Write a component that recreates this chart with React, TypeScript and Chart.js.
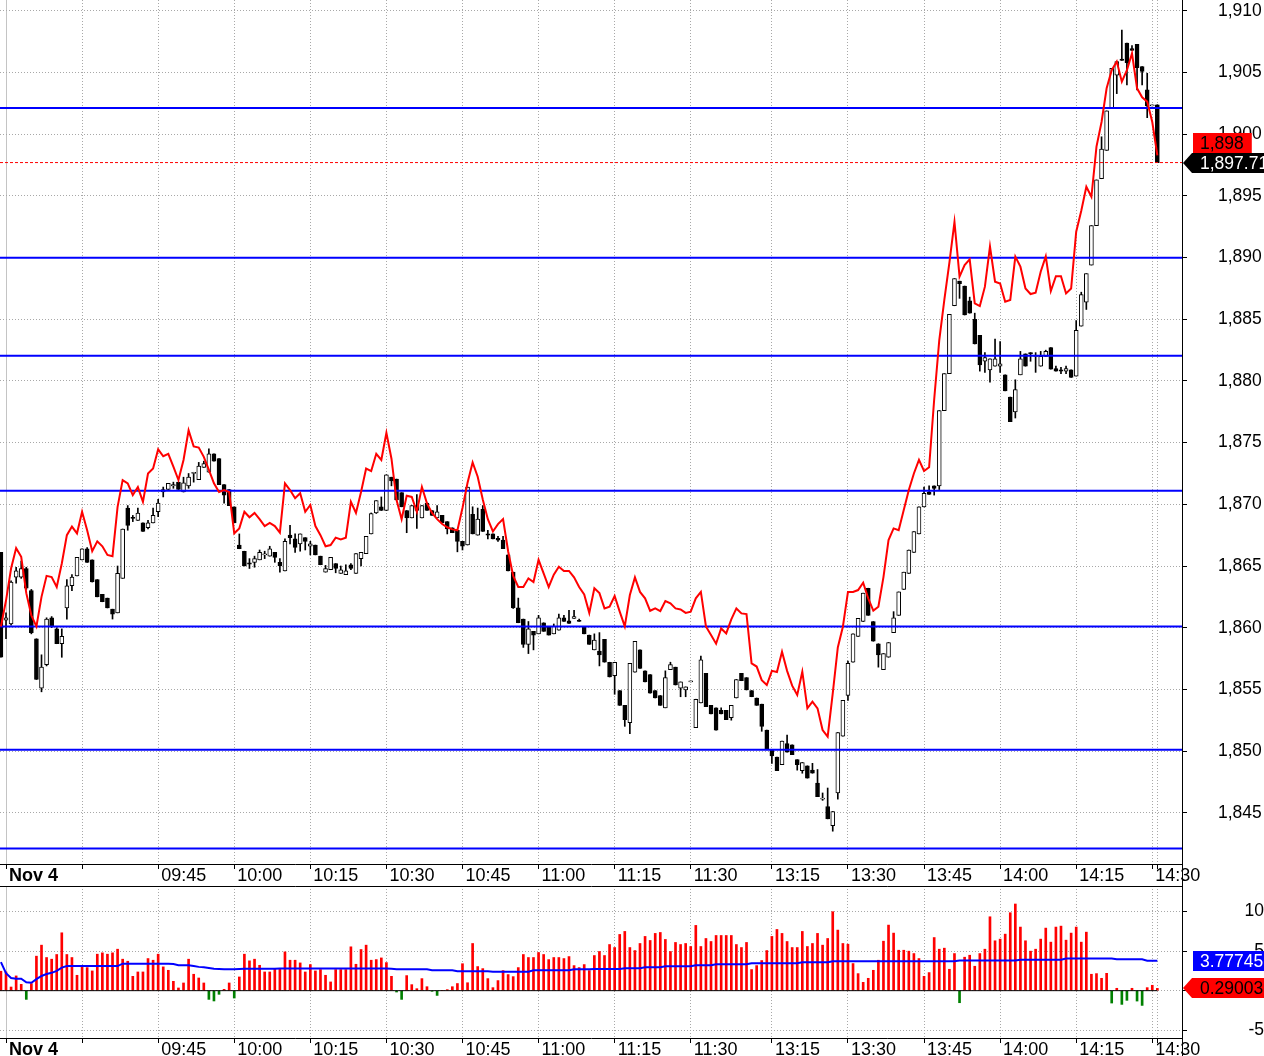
import React, { useEffect, useRef } from 'react';
import { Chart, registerables } from 'chart.js';

Chart.register(...registerables);

const FONT = "'Liberation Sans', Arial, sans-serif";

// ---- data (one entry per 1-minute bar, bar numbers start at FIRST_BAR) ----
const FIRST_BAR = -1;

const opens = [
  1866.1, 1860.6, 1860.3, 1864.1, 1864.1, 1864.8, 1863.0, 1859.1, 1855.1, 1857.0,
  1860.8, 1859.9, 1858.7, 1861.6, 1863.4, 1864.2, 1865.5, 1866.4, 1865.5, 1863.9,
  1862.7, 1862.4, 1861.5, 1861.2, 1864.0, 1869.7, 1868.95, 1868.7, 1868.5, 1868.1,
  1868.5, 1869.4, 1871.0, 1871.2, 1871.5, 1871.8, 1871.0, 1871.5, 1872.5, 1872.0,
  1873.0, 1872.6, 1874.1, 1873.7, 1871.6, 1871.2, 1869.8, 1866.7, 1866.2, 1865.25,
  1865.3, 1865.5, 1865.9, 1865.8, 1866.1, 1865.3, 1864.6, 1867.5, 1867.2, 1866.8,
  1867.3, 1866.6, 1866.7, 1865.8, 1864.5, 1864.7, 1865.2, 1864.4, 1864.3, 1865.1,
  1864.4, 1865.6, 1866.0, 1867.6, 1869.3, 1869.8, 1869.5, 1872.2, 1872.05, 1870.95,
  1869.5, 1868.9, 1869.9, 1868.9, 1870.1, 1869.5, 1868.9, 1869.1, 1868.6, 1868.1,
  1867.9, 1867.0, 1866.7, 1869.2, 1867.5, 1869.6, 1867.6, 1867.6, 1867.25, 1867.1,
  1865.9, 1864.5, 1861.6, 1860.7, 1858.65, 1859.7, 1859.5, 1860.4, 1860.1, 1859.5,
  1859.8, 1860.8, 1860.56, 1860.76, 1860.6, 1860.1, 1859.4, 1858.2, 1858.1, 1859.05,
  1857.2, 1856.1, 1854.9, 1853.7, 1852.3, 1856.4, 1858.2, 1856.5, 1856.2, 1854.9,
  1854.5, 1853.5, 1856.6, 1856.8, 1855.1, 1854.95, 1855.6, 1851.9, 1853.9, 1856.3,
  1853.7, 1853.5, 1853.3, 1853.3, 1852.7, 1854.3, 1856.3, 1855.95, 1854.9, 1854.3,
  1853.8, 1851.7, 1850.1, 1849.5, 1848.9, 1850.6, 1850.5, 1849.3, 1848.4, 1848.8,
  1848.45, 1847.4, 1846.1, 1845.5, 1843.95, 1846.6, 1851.2, 1854.5, 1857.2, 1859.3,
  1860.5, 1863.2, 1860.5, 1858.7, 1856.6, 1857.6, 1859.6, 1861.0, 1863.1, 1864.4,
  1866.1, 1867.6, 1869.8, 1871.0, 1871.5, 1871.5, 1877.6, 1880.6, 1886.1, 1888.1,
  1887.7, 1886.5, 1885.0, 1883.7, 1881.6, 1880.9, 1881.2, 1881.2, 1880.5, 1878.7,
  1877.5, 1880.5, 1882.2, 1882.3, 1882.0, 1881.2, 1882.0, 1882.7, 1881.0, 1880.9,
  1880.8, 1880.9, 1880.4, 1884.45, 1886.4, 1889.4, 1892.6, 1896.4, 1898.7, 1902.1,
  1904.8, 1906.1, 1907.4, 1906.95, 1907.3, 1905.5, 1903.6, 1902.3, 1902.4,
];

const highs = [
  1866.1, 1861.2, 1863.8, 1864.9, 1865.4, 1864.9, 1863.1, 1859.1, 1857.8, 1860.8,
  1860.9, 1860.0, 1859.9, 1863.9, 1864.3, 1865.7, 1866.4, 1866.5, 1865.5, 1863.9,
  1862.7, 1862.4, 1861.5, 1865.0, 1868.0, 1869.9, 1869.1, 1869.7, 1868.5, 1868.7,
  1869.7, 1870.4, 1871.4, 1871.7, 1871.8, 1871.8, 1872.2, 1872.5, 1872.6, 1873.4,
  1873.5, 1874.5, 1874.1, 1873.7, 1871.6, 1871.2, 1869.8, 1867.6, 1866.2, 1865.6,
  1865.8, 1866.3, 1866.2, 1866.6, 1866.1, 1865.6, 1867.2, 1868.3, 1867.6, 1867.6,
  1867.3, 1867.0, 1866.7, 1865.8, 1865.05, 1865.7, 1865.2, 1865.0, 1865.1, 1865.2,
  1866.0, 1866.1, 1867.4, 1869.3, 1870.3, 1870.6, 1872.4, 1872.2, 1872.05, 1870.95,
  1869.5, 1869.9, 1870.8, 1869.9, 1870.1, 1869.5, 1869.9, 1869.1, 1868.6, 1868.1,
  1867.9, 1867.0, 1871.4, 1869.8, 1869.7, 1869.9, 1867.9, 1867.6, 1867.4, 1867.4,
  1865.9, 1864.5, 1862.4, 1860.7, 1860.5, 1859.7, 1861.0, 1860.4, 1860.1, 1860.3,
  1861.1, 1861.0, 1861.4, 1861.4, 1860.7, 1860.1, 1859.4, 1859.5, 1859.6, 1859.05,
  1857.2, 1857.2, 1854.9, 1853.7, 1857.1, 1858.9, 1858.2, 1856.5, 1856.2, 1854.9,
  1854.5, 1856.5, 1857.2, 1856.8, 1855.6, 1855.2, 1855.6, 1854.2, 1857.7, 1856.3,
  1853.7, 1853.5, 1853.5, 1853.3, 1853.7, 1855.8, 1856.3, 1855.95, 1854.9, 1854.3,
  1853.8, 1851.7, 1850.1, 1849.5, 1850.8, 1851.3, 1850.5, 1849.3, 1849.07, 1848.8,
  1849.0, 1848.5, 1846.6, 1847.0, 1845.1, 1851.5, 1854.1, 1857.3, 1859.5, 1860.76,
  1862.8, 1863.2, 1860.5, 1858.7, 1857.9, 1858.8, 1861.3, 1862.9, 1864.5, 1866.3,
  1867.8, 1869.8, 1871.4, 1871.5, 1871.5, 1877.6, 1880.6, 1885.4, 1888.3, 1888.1,
  1887.7, 1886.8, 1885.5, 1883.7, 1882.3, 1881.8, 1883.4, 1883.2, 1880.5, 1878.7,
  1880.1, 1882.4, 1882.2, 1882.3, 1882.3, 1882.4, 1882.5, 1882.7, 1881.2, 1881.1,
  1881.2, 1880.9, 1884.9, 1887.2, 1888.7, 1892.6, 1896.3, 1899.8, 1901.9, 1905.35,
  1905.9, 1908.46, 1907.4, 1907.2, 1907.3, 1905.5, 1904.95, 1902.3, 1902.4,
];

const lows = [
  1857.6, 1859.1, 1860.2, 1863.6, 1864.0, 1863.1, 1859.5, 1855.8, 1854.8, 1856.9,
  1860.0, 1858.7, 1857.6, 1860.7, 1863.0, 1864.2, 1865.5, 1865.3, 1863.7, 1862.5,
  1862.1, 1861.6, 1860.7, 1861.2, 1864.0, 1867.9, 1868.6, 1868.7, 1867.8, 1868.0,
  1868.5, 1869.0, 1870.6, 1871.2, 1871.3, 1871.2, 1871.0, 1871.3, 1871.8, 1872.0,
  1873.0, 1872.6, 1873.5, 1871.6, 1870.1, 1869.9, 1868.5, 1866.4, 1865.0, 1864.8,
  1864.9, 1865.5, 1865.6, 1865.8, 1865.3, 1864.5, 1864.6, 1866.8, 1866.1, 1866.2,
  1866.3, 1865.9, 1865.9, 1865.1, 1864.5, 1864.7, 1864.45, 1864.4, 1864.3, 1864.7,
  1864.4, 1865.0, 1866.0, 1867.6, 1869.26, 1869.5, 1869.5, 1871.5, 1870.35, 1869.8,
  1867.7, 1868.9, 1868.05, 1868.9, 1869.5, 1869.1, 1868.9, 1868.5, 1867.6, 1867.7,
  1866.15, 1866.3, 1866.7, 1867.6, 1867.5, 1867.8, 1867.2, 1867.2, 1867.0, 1866.4,
  1864.6, 1861.56, 1860.4, 1858.4, 1857.9, 1858.2, 1859.5, 1859.7, 1859.4, 1859.5,
  1859.8, 1860.5, 1860.35, 1860.76, 1860.5, 1859.5, 1858.65, 1858.2, 1856.9, 1857.2,
  1856.0, 1854.6, 1853.7, 1852.0, 1851.4, 1856.4, 1856.7, 1855.6, 1854.7, 1854.3,
  1853.7, 1853.5, 1856.6, 1855.35, 1854.4, 1854.4, 1855.6, 1851.9, 1853.9, 1853.6,
  1853.0, 1851.7, 1853.0, 1852.55, 1852.5, 1854.3, 1855.7, 1854.95, 1854.4, 1853.7,
  1851.6, 1850.1, 1849.0, 1848.4, 1848.9, 1849.9, 1849.7, 1848.45, 1848.2, 1847.8,
  1848.2, 1846.3, 1846.0, 1844.5, 1843.5, 1846.1, 1851.2, 1854.1, 1857.2, 1859.3,
  1860.5, 1861.0, 1858.9, 1856.8, 1856.6, 1857.6, 1859.6, 1861.0, 1863.1, 1864.4,
  1866.1, 1867.6, 1869.8, 1870.8, 1870.75, 1871.2, 1877.6, 1880.6, 1886.1, 1886.7,
  1885.35, 1885.5, 1883.0, 1880.8, 1880.7, 1879.9, 1881.2, 1880.7, 1879.2, 1876.7,
  1877.0, 1880.5, 1881.2, 1881.6, 1880.7, 1881.2, 1882.0, 1880.95, 1880.8, 1880.6,
  1880.6, 1880.3, 1880.4, 1884.45, 1885.8, 1889.4, 1892.6, 1896.4, 1898.7, 1902.1,
  1903.3, 1906.0, 1904.0, 1906.8, 1903.6, 1904.0, 1901.35, 1902.3, 1897.71,
];

const closes = [
  1857.6, 1860.8, 1863.7, 1864.6, 1864.8, 1863.2, 1859.6, 1855.8, 1856.8, 1860.7,
  1860.1, 1858.7, 1859.3, 1863.4, 1864.1, 1865.7, 1866.4, 1865.3, 1863.7, 1862.5,
  1862.1, 1861.6, 1861.1, 1864.4, 1868.0, 1868.3, 1868.85, 1869.3, 1867.8, 1868.5,
  1869.1, 1870.1, 1871.2, 1871.7, 1871.6, 1871.2, 1871.75, 1872.2, 1872.6, 1873.1,
  1873.3, 1874.1, 1873.5, 1871.6, 1870.75, 1869.9, 1868.5, 1866.4, 1865.0, 1865.15,
  1865.6, 1866.1, 1865.9, 1866.4, 1865.7, 1865.0, 1867.0, 1867.3, 1866.5, 1867.6,
  1867.0, 1866.8, 1865.9, 1865.1, 1864.8, 1865.7, 1864.8, 1864.7, 1864.6, 1864.8,
  1866.0, 1866.1, 1867.4, 1869.26, 1870.3, 1869.5, 1872.4, 1871.9, 1870.35, 1869.8,
  1868.9, 1869.9, 1869.5, 1869.9, 1869.5, 1869.1, 1869.4, 1868.5, 1868.0, 1867.7,
  1867.0, 1866.6, 1871.4, 1867.6, 1868.8, 1867.8, 1867.5, 1867.2, 1867.1, 1866.4,
  1864.6, 1861.6, 1860.4, 1858.65, 1859.9, 1859.4, 1860.8, 1859.7, 1859.4, 1860.1,
  1860.8, 1860.5, 1860.35, 1860.9, 1860.5, 1859.5, 1858.65, 1859.0, 1857.8, 1857.2,
  1856.0, 1857.2, 1853.7, 1852.55, 1857.1, 1858.9, 1856.7, 1855.6, 1854.7, 1854.3,
  1853.7, 1855.95, 1857.0, 1855.35, 1855.6, 1855.2, 1855.6, 1854.2, 1857.4, 1853.6,
  1853.0, 1851.7, 1853.0, 1852.55, 1853.7, 1855.8, 1855.7, 1854.95, 1854.4, 1853.7,
  1852.0, 1850.1, 1849.6, 1848.4, 1850.8, 1849.9, 1849.7, 1848.9, 1849.07, 1847.8,
  1848.2, 1846.3, 1846.1, 1844.5, 1845.1, 1851.5, 1854.1, 1857.1, 1859.5, 1860.76,
  1862.8, 1861.0, 1858.9, 1857.8, 1857.9, 1858.8, 1860.8, 1862.9, 1864.5, 1866.3,
  1867.8, 1869.8, 1870.9, 1870.8, 1871.3, 1877.6, 1880.6, 1885.4, 1888.3, 1887.9,
  1885.35, 1885.5, 1883.0, 1881.3, 1881.9, 1881.8, 1881.8, 1881.4, 1879.2, 1876.7,
  1879.3, 1881.8, 1881.2, 1882.2, 1882.0, 1882.0, 1882.4, 1880.95, 1880.8, 1880.8,
  1881.0, 1880.3, 1884.1, 1887.0, 1888.7, 1892.6, 1896.3, 1898.8, 1901.9, 1905.35,
  1905.9, 1906.0, 1905.8, 1906.8, 1905.4, 1905.1, 1902.3, 1902.3, 1897.71,
];

const signalLine = [
  1860.1, 1862.2, 1864.8, 1866.45, 1865.75, 1862.8, 1861.0, 1860.1, 1862.5, 1864.2,
  1864.1, 1863.3, 1865.2, 1867.5, 1868.2, 1867.65, 1869.4, 1867.9, 1866.2, 1867.0,
  1866.6, 1865.9, 1865.8, 1869.8, 1871.97, 1871.7, 1870.75, 1871.4, 1870.2, 1872.5,
  1872.9, 1874.46, 1873.9, 1874.1, 1873.05, 1871.97, 1873.6, 1876.0, 1874.7, 1874.6,
  1873.85, 1872.8, 1871.7, 1871.0, 1871.16, 1871.0, 1867.65, 1868.05, 1869.4, 1868.95,
  1869.3, 1868.8, 1868.24, 1868.5, 1868.24, 1867.7, 1871.7, 1871.16, 1870.5, 1870.9,
  1869.4, 1869.95, 1868.24, 1867.5, 1866.6, 1866.7, 1867.3, 1867.16, 1867.3, 1870.2,
  1869.3, 1871.0, 1872.9, 1872.7, 1874.1, 1873.6, 1875.8, 1873.7, 1870.35, 1868.8,
  1870.7, 1870.6, 1869.4, 1871.4, 1870.08, 1869.3, 1868.8, 1868.4, 1868.14, 1867.97,
  1867.9, 1869.7, 1871.75, 1873.4, 1872.24, 1870.4, 1868.8, 1867.8, 1868.4, 1868.8,
  1866.2, 1864.2, 1863.3, 1863.3, 1864.0, 1863.7, 1865.5, 1864.4, 1863.3, 1864.3,
  1864.94, 1864.6, 1864.6, 1864.08, 1863.3, 1862.7, 1861.2, 1863.2, 1862.8, 1861.56,
  1861.7, 1862.57, 1861.3, 1860.1, 1862.65, 1864.08, 1862.9, 1862.38, 1861.37, 1861.56,
  1861.35, 1862.16, 1861.97, 1861.56, 1861.48, 1861.2, 1861.3, 1862.38, 1862.9, 1860.1,
  1859.4, 1858.7, 1859.94, 1859.54, 1860.68, 1861.56, 1861.16, 1861.1, 1857.1, 1856.85,
  1855.75, 1855.35, 1856.5, 1856.4, 1858.05, 1856.5, 1855.3, 1854.54, 1856.43, 1853.46,
  1854.0, 1853.46, 1851.7, 1851.16, 1854.68, 1858.4, 1860.08, 1862.9, 1862.9, 1863.05,
  1863.65, 1862.38, 1861.38, 1861.7, 1864.1, 1867.1, 1868.05, 1867.9, 1869.54, 1871.16,
  1872.5, 1873.6, 1872.7, 1873.0, 1878.5, 1883.3, 1886.57, 1889.6, 1892.9, 1888.46,
  1889.4, 1889.86, 1886.3, 1886.08, 1887.65, 1890.9, 1888.05, 1887.9, 1886.43, 1886.57,
  1890.08, 1889.27, 1887.5, 1887.05, 1887.16, 1888.86, 1890.1, 1887.3, 1888.5, 1888.5,
  1887.1, 1887.5, 1892.1, 1893.8, 1895.75, 1894.94, 1899.0, 1901.0, 1903.73, 1905.2,
  1905.9, 1904.27, 1905.2, 1906.57, 1903.73, 1903.0, 1902.65, 1901.0, 1898.3,
];

const histogram = [
  2.45, 2.36, 0.46, 1.86, 0.8, -1.1, 0.89, 4.35, 5.74, 4.18,
  3.97, 4.56, 7.3, 4.56, 4.18, 1.94, 3.08, 2.91, 2.49, 4.6,
  4.77, 4.6, 4.77, 5.23, 3.97, 3.71, 1.81, 2.36, 2.36, 4.05,
  3.84, 4.6, 3.0, 2.57, 1.18, 0.34, 0.97, 3.97, 2.07, 1.6,
  0.97, -1.1, -1.3, -0.46, 0.17, 0.97, -0.93, 1.73, 4.6, 3.76,
  3.97, 3.2, 2.36, 2.36, 2.7, 2.7, 4.89, 3.84, 3.84, 3.5,
  2.36, 3.29, 2.49, 2.66, 1.94, 1.1, 2.66, 2.66, 2.66, 5.53,
  3.33, 5.19, 5.74, 3.84, 3.92, 4.13, 3.54, 1.81, -0.17, -1.1,
  1.9, 0.76, 0.25, 1.52, 0.5, -0.08, -0.6, 0, 0.13, 0.5,
  0.9, 3.4, 1.0, 5.95, 3.04, 2.78, 1.52, 0.38, 1.27, 2.53,
  2.03, 1.77, 2.91, 4.56, 4.18, 4.18, 4.81, 4.56, 3.92, 4.18,
  4.18, 4.05, 4.3, 3.16, 2.91, 3.29, 2.53, 4.43, 4.94, 4.43,
  5.82, 5.44, 7.09, 7.47, 5.44, 5.06, 5.95, 6.84, 6.33, 7.22,
  7.34, 6.46, 4.94, 6.08, 5.82, 5.95, 5.57, 8.23, 5.57, 6.58,
  6.2, 6.96, 6.96, 6.96, 6.96, 5.82, 5.44, 6.08, 2.66, 3.16,
  3.8, 5.06, 6.84, 7.72, 7.22, 6.2, 5.44, 5.44, 7.47, 5.57,
  5.95, 7.22, 5.74, 6.58, 9.96, 7.64, 5.95, 5.86, 3.42, 2.15,
  1.05, 1.56, 2.57, 3.84, 6.24, 8.27, 7.26, 5.1, 5.1, 4.98,
  4.68, 4.05, 1.81, 2.28, 6.7, 5.23, 5.36, 2.7, 4.68, -1.52,
  4.22, 4.47, 3.08, 4.68, 5.23, 9.32, 6.29, 6.5, 7.13, 9.83,
  10.93, 8.02, 6.29, 4.98, 5.23, 6.5, 7.89, 6.12, 8.02, 8.14,
  6.37, 7.26, 8.02, 6.12, 7.38, 2.07, 2.15, 1.56, 2.19, -1.56,
  0.3, -1.73, -1.22, 0.3, -1.31, -1.86, 0.38, 0.68, 0.29003,
];

const histogramAvg = [
  3.6, 2.2, 1.6, 1.5, 1.5, 1.05, 1.0, 1.45, 1.85, 2.1,
  2.25, 2.5, 2.9, 3.1, 3.1, 3.1, 3.1, 3.1, 3.1, 3.1,
  3.1, 3.1, 3.1, 3.1, 3.4, 3.4, 3.4, 3.4, 3.4, 3.4,
  3.4, 3.4, 3.4, 3.4, 3.35, 3.2, 3.2, 3.2, 3.1, 3.0,
  2.95, 2.85, 2.75, 2.72, 2.7, 2.7, 2.7, 2.72, 2.75, 2.75,
  2.75, 2.75, 2.75, 2.75, 2.75, 2.78, 2.78, 2.78, 2.78, 2.78,
  2.78, 2.78, 2.78, 2.78, 2.78, 2.78, 2.78, 2.78, 2.78, 2.78,
  2.78, 2.78, 2.78, 2.78, 2.78, 2.78, 2.78, 2.75, 2.7, 2.7,
  2.7, 2.7, 2.7, 2.7, 2.7, 2.57, 2.57, 2.57, 2.57, 2.57,
  2.45, 2.45, 2.45, 2.45, 2.45, 2.45, 2.45, 2.4, 2.4, 2.4,
  2.4, 2.4, 2.4, 2.4, 2.4, 2.57, 2.57, 2.57, 2.57, 2.57,
  2.57, 2.57, 2.57, 2.7, 2.7, 2.7, 2.7, 2.74, 2.74, 2.74,
  2.74, 2.74, 2.74, 2.83, 2.83, 2.83, 2.83, 2.95, 2.95, 2.95,
  2.95, 3.08, 3.08, 3.08, 3.08, 3.08, 3.08, 3.2, 3.2, 3.2,
  3.2, 3.33, 3.33, 3.33, 3.33, 3.33, 3.33, 3.33, 3.46, 3.46,
  3.46, 3.46, 3.46, 3.46, 3.46, 3.46, 3.46, 3.46, 3.59, 3.59,
  3.59, 3.59, 3.59, 3.59, 3.72, 3.72, 3.72, 3.72, 3.72, 3.72,
  3.72, 3.72, 3.72, 3.72, 3.72, 3.72, 3.72, 3.72, 3.72, 3.72,
  3.72, 3.72, 3.72, 3.72, 3.72, 3.72, 3.72, 3.72, 3.72, 3.8,
  3.8, 3.8, 3.8, 3.8, 3.8, 3.8, 3.8, 3.8, 3.8, 3.8,
  3.8, 3.9, 3.9, 3.9, 3.9, 3.9, 3.9, 3.9, 3.9, 3.9,
  4.05, 4.05, 4.05, 4.05, 4.05, 4.05, 4.05, 4.05, 4.05, 4.05,
  3.95, 3.95, 3.95, 3.95, 3.95, 3.95, 3.78, 3.78, 3.77745,
];

const levels = [1902.13, 1890.0, 1882.05, 1871.1, 1860.1, 1850.1, 1842.1];

const timeTickBars = [0, 15, 30, 45, 60, 75, 90, 105, 120, 135, 151, 166, 181, 196, 211, 226, 227];
const timeTickLabels = ['Nov 4', '', '09:45', '10:00', '10:15', '10:30', '10:45', '11:00', '11:15', '11:30',
  '13:15', '13:30', '13:45', '14:00', '14:15', '14:30', ''];
const priceTicks = [1845, 1850, 1855, 1860, 1865, 1870, 1875, 1880, 1885, 1890, 1895, 1900, 1905, 1910];
const oscTicks = [-5, 0, 5, 10];

// ---- view ranges ----
const BAR_MIN = -1.183;
const BAR_MAX = 231.86;
const PRICE_MIN = 1840.84;
const PRICE_MAX = 1910.89;
const OSC_MIN = -5.97;
const OSC_MAX = 13.2;

const barIndex = opens.map((_, k) => FIRST_BAR + k);
const LAST = barIndex.length - 1;
const LAST_BAR = barIndex[LAST];

const fmtPrice = (v: number) => v.toLocaleString('en-US');

const noPad = (s: any) => {
  s.paddingTop = 0;
  s.paddingBottom = 0;
  s.paddingLeft = 0;
  s.paddingRight = 0;
};

const overlayPlugin = {
  id: 'overlay',
  afterDraw(chart: any, _args: any, opts: any) {
    const { ctx, chartArea, scales } = chart;
    const W = chart.width;
    const H = chart.height;
    const right = Math.round(chartArea.right);
    ctx.save();
    ctx.strokeStyle = '#000';
    ctx.lineWidth = 1;
    ctx.beginPath();
    ctx.moveTo(right + 0.5, 0);
    ctx.lineTo(right + 0.5, H);
    if (opts.topLine) {
      const t = Math.round(chartArea.top) + 0.5;
      ctx.moveTo(0, t);
      ctx.lineTo(right + 1, t);
    }
    ctx.stroke();
    ctx.font = `17.5px ${FONT}`;
    ctx.textBaseline = 'middle';
    ctx.textAlign = 'left';
    const h = 20;
    let floorTop = Infinity;
    for (const tag of opts.tags || []) {
      let cy = scales.y.getPixelForValue(tag.value);
      if (tag.stackAbove && cy + h / 2 > floorTop) cy = floorTop - h / 2;
      cy = Math.round(cy);
      const top = cy - h / 2;
      ctx.fillStyle = tag.bg;
      ctx.beginPath();
      if (tag.arrow) {
        ctx.moveTo(right + 1, cy);
        ctx.lineTo(right + 10, top);
        ctx.lineTo(W, top);
        ctx.lineTo(W, top + h);
        ctx.lineTo(right + 10, top + h);
        ctx.closePath();
      } else {
        const w = tag.fit ? ctx.measureText(tag.text).width + 15 : W - right - 11;
        ctx.rect(right + 11, top, w, h);
      }
      ctx.fill();
      ctx.fillStyle = tag.fg;
      ctx.fillText(tag.text, right + 18, cy + 1);
      floorTop = Math.min(floorTop, top);
    }
    ctx.restore();
  },
};

function timeAxis(height: number) {
  return {
    type: 'linear',
    min: BAR_MIN,
    max: BAR_MAX,
    offset: false,
    afterBuildTicks: (s: any) => {
      s.ticks = timeTickBars.map((v) => ({ value: v }));
    },
    afterFit: (s: any) => {
      s.height = height;
      noPad(s);
    },
    grid: {
      offset: false,
      color: (c: any) => (c.tick && c.tick.value === 0 ? '#c4c4c4' : '#a8a8a8'),
      lineWidth: 1,
      tickLength: 5,
      tickColor: '#000',
      tickWidth: 1,
      tickBorderDash: [],
    },
    border: {
      display: true,
      color: '#000',
      width: 1,
      dash: (c: any) => (c.tick && c.tick.value === 0 ? [] : [1, 2]),
    },
    ticks: {
      autoSkip: false,
      maxRotation: 0,
      minRotation: 0,
      align: 'start',
      labelOffset: 3,
      padding: -4,
      color: '#000',
      font: (c: any) => ({ family: FONT, size: 18, weight: c.tick && c.tick.value === 0 ? 'bold' : 'normal' }),
      callback: (v: any) => {
        const k = timeTickBars.indexOf(Number(v));
        return k >= 0 ? timeTickLabels[k] : '';
      },
    },
  };
}

export default function App() {
  const topRef = useRef<HTMLCanvasElement>(null);
  const botRef = useRef<HTMLCanvasElement>(null);

  useEffect(() => {
    Chart.defaults.font.family = FONT;
    const lastClose = closes[LAST];
    const lastSignal = signalLine[LAST];

    const levelSets = levels.map((lv) => ({
      type: 'line',
      data: [{ x: BAR_MIN, y: lv }, { x: BAR_MAX, y: lv }],
      borderColor: '#0000ff',
      borderWidth: 2,
      pointRadius: 0,
      order: 1,
    }));

    const top = new Chart(topRef.current as HTMLCanvasElement, {
      type: 'bar',
      data: {
        datasets: [
          {
            type: 'line',
            data: barIndex.map((x, k) => ({ x, y: signalLine[k] })),
            borderColor: '#ff0000',
            borderWidth: 2,
            pointRadius: 0,
            tension: 0,
            order: 0,
          },
          ...levelSets,
          {
            type: 'line',
            data: [{ x: BAR_MIN, y: lastClose }, { x: BAR_MAX, y: lastClose }],
            borderColor: '#ff0000',
            borderWidth: 1,
            borderDash: [3, 2],
            pointRadius: 0,
            order: 1,
          },
          {
            type: 'bar',
            data: barIndex.map((x, k) => ({ x, y: [opens[k], closes[k]] })),
            backgroundColor: (c: any) => (closes[c.dataIndex] >= opens[c.dataIndex] ? '#ffffff' : '#000000'),
            borderColor: '#000',
            borderWidth: 1,
            borderSkipped: false,
            barThickness: 4,
            minBarLength: 1,
            grouped: false,
            order: 2,
          },
          {
            type: 'bar',
            data: barIndex.map((x, k) => ({ x, y: [lows[k], highs[k]] })),
            backgroundColor: '#000',
            borderWidth: 0,
            barThickness: 1,
            minBarLength: 1,
            grouped: false,
            order: 3,
          },
        ] as any,
      },
      options: {
        responsive: false,
        animation: false,
        devicePixelRatio: 1,
        events: [],
        layout: { padding: 0, autoPadding: false },
        plugins: {
          legend: { display: false },
          tooltip: { enabled: false },
          overlay: {
            topLine: false,
            tags: [
              { value: lastClose, text: lastClose.toLocaleString('en-US', { minimumFractionDigits: 2 }), bg: '#000', fg: '#fff', arrow: true },
              { value: lastSignal, text: fmtPrice(Math.round(lastSignal)), bg: '#ff0000', fg: '#000', arrow: false, fit: true, stackAbove: true },
            ],
          },
        } as any,
        scales: {
          x: timeAxis(22) as any,
          y: {
            type: 'linear',
            position: 'right',
            min: PRICE_MIN,
            max: PRICE_MAX,
            afterBuildTicks: (s: any) => {
              s.ticks = priceTicks.map((v) => ({ value: v }));
            },
            afterFit: (s: any) => {
              s.width = 82;
              noPad(s);
            },
            grid: { color: '#a8a8a8', lineWidth: 1, tickLength: 5, tickColor: '#000', tickBorderDash: [] },
            border: { display: true, color: '#000', width: 1, dash: [1, 2] },
            ticks: {
              color: '#000',
              font: { family: FONT, size: 17.5 },
              padding: 31,
              crossAlign: 'near',
              callback: (v: any) => fmtPrice(Number(v)),
            },
          } as any,
        },
      },
      plugins: [overlayPlugin as any],
    });

    const bot = new Chart(botRef.current as HTMLCanvasElement, {
      type: 'bar',
      data: {
        datasets: [
          {
            type: 'line',
            data: barIndex.map((x, k) => ({ x, y: histogramAvg[k] })),
            borderColor: '#0000ff',
            borderWidth: 2,
            pointRadius: 0,
            tension: 0,
            order: 0,
          },
          {
            type: 'line',
            data: [{ x: BAR_MIN, y: 0 }, { x: LAST_BAR, y: 0 }],
            borderColor: '#000',
            borderWidth: 1,
            pointRadius: 0,
            order: 1,
          },
          {
            type: 'bar',
            data: barIndex.map((x, k) => ({ x, y: histogram[k] })),
            backgroundColor: (c: any) => (histogram[c.dataIndex] >= 0 ? '#ff0000' : '#008000'),
            borderWidth: 0,
            barThickness: 2,
            grouped: false,
            order: 2,
          },
        ] as any,
      },
      options: {
        responsive: false,
        animation: false,
        devicePixelRatio: 1,
        events: [],
        layout: { padding: 0, autoPadding: false },
        plugins: {
          legend: { display: false },
          tooltip: { enabled: false },
          overlay: {
            topLine: true,
            tags: [
              { value: histogramAvg[LAST], text: histogramAvg[LAST].toFixed(5), bg: '#0000ff', fg: '#fff', arrow: false },
              { value: histogram[LAST], text: histogram[LAST].toFixed(5), bg: '#ff0000', fg: '#000', arrow: true },
            ],
          },
        } as any,
        scales: {
          x: timeAxis(18) as any,
          y: {
            type: 'linear',
            position: 'right',
            min: OSC_MIN,
            max: OSC_MAX,
            afterBuildTicks: (s: any) => {
              s.ticks = oscTicks.map((v) => ({ value: v }));
            },
            afterFit: (s: any) => {
              s.width = 82;
              noPad(s);
            },
            grid: { color: '#a8a8a8', lineWidth: 1, tickLength: 5, tickColor: '#000', tickBorderDash: [] },
            border: { display: true, color: '#000', width: 1, dash: [1, 2] },
            ticks: {
              color: '#000',
              font: { family: FONT, size: 17.5 },
              padding: 56,
              crossAlign: 'far',
              callback: (v: any) => String(v),
            },
          } as any,
        },
      },
      plugins: [overlayPlugin as any],
    });

    return () => {
      top.destroy();
      bot.destroy();
    };
  }, []);

  return (
    <div style={{ position: 'absolute', left: 0, top: 0, width: 1264, height: 1056, background: '#fff', overflow: 'hidden' }}>
      <canvas ref={topRef} width={1264} height={886} style={{ display: 'block', width: 1264, height: 886 }} />
      <canvas ref={botRef} width={1264} height={170} style={{ display: 'block', width: 1264, height: 170 }} />
    </div>
  );
}
